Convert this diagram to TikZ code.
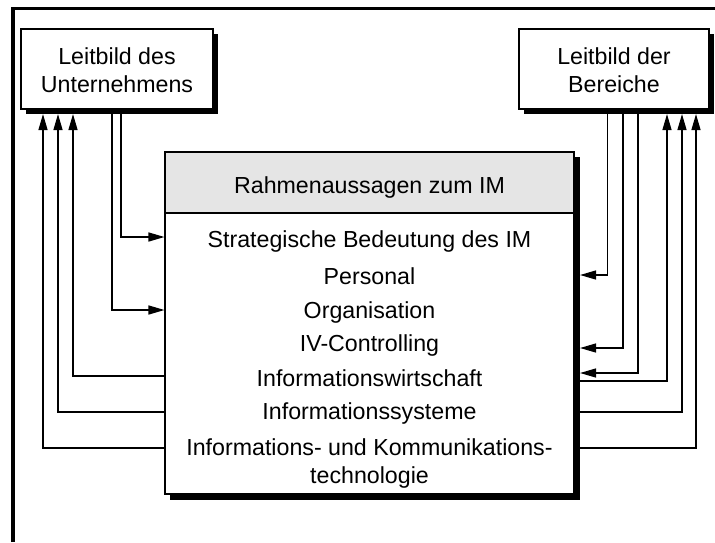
\documentclass[tikz,border=0pt]{standalone}
\usepackage{fontspec}
\setmainfont{Liberation Sans}
\usetikzlibrary{arrows.meta}
\begin{document}
\begin{tikzpicture}[x=1pt,y=-1pt,
  box/.style={draw=black, fill=white, line width=1.1pt, inner sep=0pt},
  shadowfill/.style={fill=black},
  conn/.style={line width=1.4pt},
  arr/.style={conn, -{Triangle[length=16pt,width=9pt]}},
  txt/.style={font=\fontsize{23.2}{28}\selectfont, anchor=base, inner sep=0pt, align=center}]
\useasboundingbox (0,0) rectangle (715,542);
% outer frame
\draw[line width=3.6pt, line join=miter] (13,542) -- (13,8.5) -- (715,8.5);
% left box
\fill[shadowfill] (26,34) rectangle (218,113.5);
\node[box, minimum width=192, minimum height=80] (L) at (117,69) {};
\node[txt] (Lt) at (117,92) {Leitbild des\\Unternehmens};
% right box
\fill[shadowfill] (524,34) rectangle (714,113.5);
\node[box, minimum width=190, minimum height=80] (R) at (614,69) {};
\node[txt] (Rt) at (614,92) {Leitbild der\\Bereiche};
% main box
\fill[shadowfill] (170,157) rectangle (579.5,499.5);
\node[box, minimum width=409, minimum height=342] (M) at (369.5,323) {};
\node[box, fill=gray!20, minimum width=409, minimum height=61] (H) at (369.5,182.5) {};
\node[txt] (h) at (369.5,193) {Rahmenaussagen zum IM};
\node[txt] (i1) at (369.5,247) {Strategische Bedeutung des IM};
\node[txt] (i2) at (369.5,284) {Personal};
\node[txt] (i3) at (369.5,318) {Organisation};
\node[txt] (i4) at (369.5,351) {IV-Controlling};
\node[txt] (i5) at (369.5,386) {Informationswirtschaft};
\node[txt] (i6) at (369.5,419) {Informationssysteme};
\node[txt] (i7) at (369.5,483) {Informations- und Kommunikations-\\technologie};
% helper coordinates
\coordinate (Ls) at ([yshift=-4.5pt]L.south);
\coordinate (Rs) at ([yshift=-4.5pt]R.south);
\coordinate (Me) at ([xshift=5.5pt]M.east);
\coordinate (a1) at (121,237);
\coordinate (a2) at (112,310);
\coordinate (b1) at (73,376);
\coordinate (b2) at (58,412);
\coordinate (b3) at (43,448);
\coordinate (c1) at (607.5,275);
\coordinate (c2) at (623,348);
\coordinate (c3) at (638,373);
\coordinate (d1) at (667,381);
\coordinate (d2) at (682,412);
\coordinate (d3) at (696,448);
% left connectors
\draw[arr] (L.south -| a1) |- (a1 -| M.west);
\draw[arr] (L.south -| a2) |- (a2 -| M.west);
\draw[arr] (b1 -| M.west) -| (Ls -| b1);
\draw[arr] (b2 -| M.west) -| (Ls -| b2);
\draw[arr] (b3 -| M.west) -| (Ls -| b3);
% right connectors
\draw[arr] (R.south -| c1) |- (c1 -| Me);
\draw[arr] (R.south -| c2) |- (c2 -| Me);
\draw[arr] (R.south -| c3) |- (c3 -| Me);
\draw[arr] (d1 -| Me) -| (Rs -| d1);
\draw[arr] (d2 -| Me) -| (Rs -| d2);
\draw[arr] (d3 -| Me) -| (Rs -| d3);
\end{tikzpicture}
\end{document}
